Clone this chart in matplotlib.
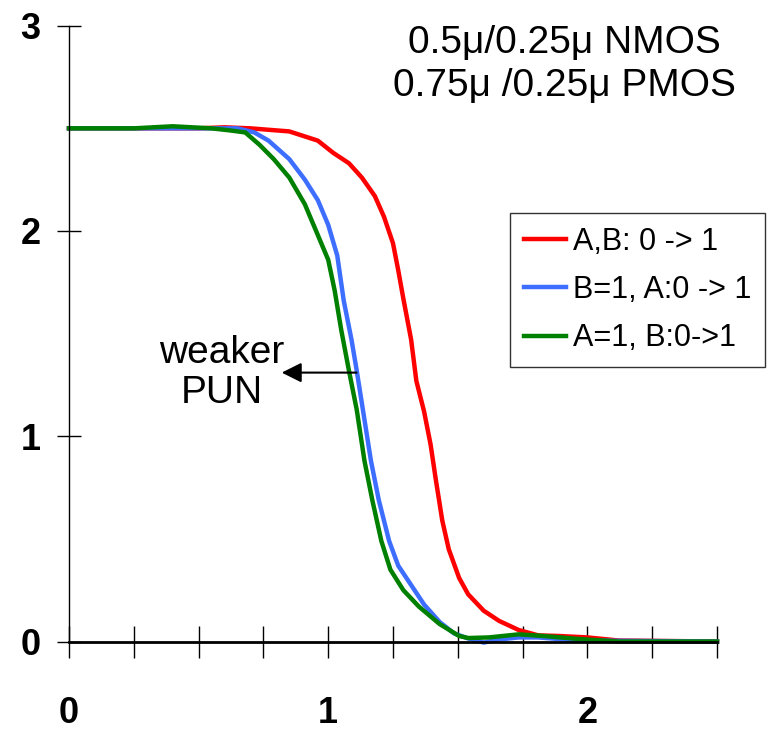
import matplotlib
matplotlib.use('Agg')
import matplotlib.pyplot as plt
from matplotlib.ticker import MultipleLocator

# V_in values and V_out traces
x_ab = [0, 0.25, 0.5, 0.6, 0.7, 0.85, 0.96, 1.02, 1.08, 1.13, 1.18, 1.215, 1.25, 1.27,
        1.29, 1.32, 1.34, 1.37, 1.395, 1.415, 1.44, 1.465, 1.505, 1.54, 1.6, 1.66,
        1.735, 1.81, 1.89, 2.0, 2.12, 2.5]
y_ab = [2.5, 2.5, 2.5, 2.505, 2.5, 2.485, 2.44, 2.38, 2.33, 2.26, 2.17, 2.07, 1.94, 1.81,
        1.67, 1.47, 1.27, 1.12, 0.96, 0.79, 0.59, 0.45, 0.31, 0.23, 0.15, 0.10,
        0.056, 0.03, 0.027, 0.02, 0.005, 0.0]

x_b1 = [0, 0.25, 0.5, 0.65, 0.715, 0.77, 0.85, 0.91, 0.96, 1.0, 1.035, 1.06, 1.09, 1.11,
        1.14, 1.165, 1.195, 1.235, 1.27, 1.32, 1.37, 1.43, 1.485, 1.535, 1.6, 1.66,
        1.735, 1.81, 1.96, 2.5]
y_b1 = [2.5, 2.5, 2.5, 2.5, 2.48, 2.44, 2.35, 2.25, 2.15, 2.03, 1.88, 1.66, 1.47, 1.32,
        1.08, 0.88, 0.69, 0.49, 0.37, 0.275, 0.18, 0.095, 0.04, 0.017, -0.005, 0.01,
        0.02, 0.02, 0.005, 0.0]

x_a1 = [0, 0.25, 0.4, 0.55, 0.62, 0.68, 0.735, 0.79, 0.85, 0.91, 0.96, 1.0, 1.025, 1.05,
        1.08, 1.11, 1.14, 1.17, 1.205, 1.24, 1.29, 1.35, 1.43, 1.505, 1.54, 1.62,
        1.735, 1.83, 1.97, 2.12, 2.5]
y_a1 = [2.5, 2.5, 2.51, 2.5, 2.49, 2.48, 2.42, 2.35, 2.26, 2.13, 1.98, 1.86, 1.71, 1.52,
        1.32, 1.13, 0.88, 0.69, 0.49, 0.35, 0.25, 0.17, 0.085, 0.027, 0.017, 0.02,
        0.035, 0.027, 0.012, 0.0, 0.0]

labels = ['A,B: 0 -> 1', 'B=1, A:0 -> 1', 'A=1, B:0->1']
colors = ['#ff0000', '#3d6eff', '#008000']

text_font = ['Liberation Sans', 'DejaVu Sans']

fig = plt.figure(figsize=(7.74, 7.30), dpi=100)
ax = fig.add_axes([0.0891, 0.1212, 0.8373, 0.8436])

ax.plot(x_ab, y_ab, color=colors[0], lw=3.2, label=labels[0], clip_on=False)
ax.plot(x_b1, y_b1, color=colors[1], lw=3.2, label=labels[1], clip_on=False)
ax.plot(x_a1, y_a1, color=colors[2], lw=3.2, label=labels[2], clip_on=False)

ax.set_xlim(0, 2.5)
ax.set_ylim(0, 3)
for s in ['top', 'right']:
    ax.spines[s].set_visible(False)
ax.spines['bottom'].set_linewidth(2)
ax.spines['left'].set_linewidth(1)

ax.xaxis.set_major_locator(MultipleLocator(1))
ax.xaxis.set_minor_locator(MultipleLocator(0.25))
ax.yaxis.set_major_locator(MultipleLocator(1))
ax.tick_params(axis='x', which='both', direction='inout', length=23, width=1, pad=28)
ax.tick_params(axis='y', which='major', direction='inout', length=17, width=1, pad=12)

for lab in ax.get_xticklabels() + ax.get_yticklabels():
    lab.set_family(text_font)
    lab.set_fontweight('bold')
    lab.set_fontsize(26)

ax.text(1.91, 2.81, '0.5\u03bc/0.25\u03bc NMOS\n0.75\u03bc /0.25\u03bc PMOS', ha='center', va='center',
        fontsize=28, family=text_font, linespacing=1.25)

ax.annotate('', xy=(0.81, 1.31), xytext=(1.12, 1.31),
            arrowprops=dict(arrowstyle='-|>', color='black', lw=1.5, mutation_scale=30))
ax.text(0.59, 1.31, 'weaker\nPUN', ha='center', va='center', fontsize=28,
        family=text_font, linespacing=1.15)

leg = ax.legend(loc='upper right', bbox_to_anchor=(765 / 774, 1 - 213 / 730),
                bbox_transform=fig.transFigure, frameon=True, borderaxespad=0,
                fancybox=False, handlelength=1.37, handletextpad=0.23, borderpad=0.45,
                labelspacing=0.6, prop={'family': text_font, 'size': 22})
leg.get_frame().set_edgecolor('black')
leg.get_frame().set_linewidth(1)

fig.savefig('out.png', dpi=100)
